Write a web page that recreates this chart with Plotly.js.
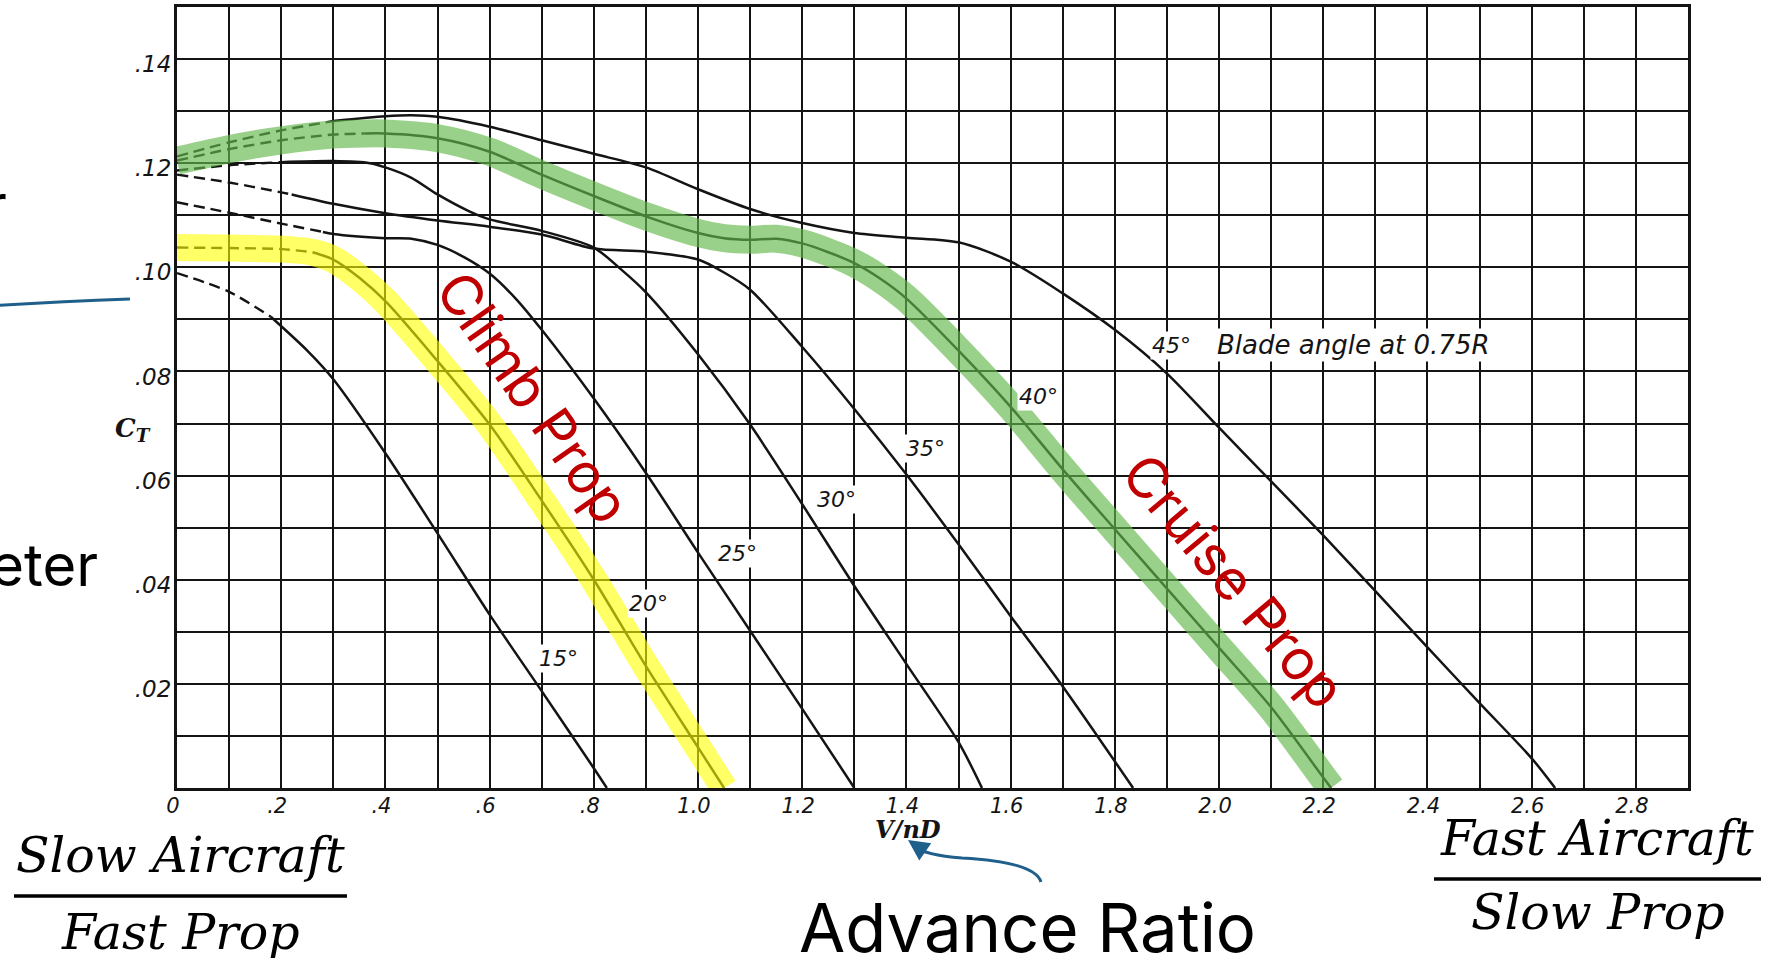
<!DOCTYPE html>
<html>
<head>
<meta charset="utf-8">
<script src="https://cdn.plot.ly/plotly-3.0.1.min.js"></script>
<style>
html,body{margin:0;padding:0;background:#ffffff;overflow:hidden;}
#chart{width:1770px;height:958px;}
</style>
</head>
<body>
<div id="chart"></div>
<script>
// ---------- data (advance ratio V/nD vs thrust coefficient C_T) ----------
const vnd15 = [0, 0.1, 0.18, 0.25, 0.3, 0.4, 0.5, 0.6, 0.7, 0.8, 0.825];
const ct15  = [0.0989, 0.0953, 0.0905, 0.0840, 0.0785, 0.0643, 0.0489, 0.0333, 0.0186, 0.0038, 0];

const vnd20 = [0, 0.1, 0.2, 0.26, 0.3, 0.35, 0.4, 0.5, 0.6, 0.7, 0.8, 0.9, 1.0, 1.05];
const ct20  = [0.1038, 0.1037, 0.1035, 0.1029, 0.1015, 0.0980, 0.0935, 0.0820, 0.0698, 0.0552, 0.0400, 0.0234, 0.0078, 0];

const vnd25 = [0, 0.1, 0.2, 0.28, 0.3, 0.4, 0.45, 0.5, 0.55, 0.6, 0.65, 0.7, 0.8, 0.9, 1.0, 1.1, 1.2, 1.3];
const ct25  = [0.1125, 0.1105, 0.1084, 0.1068, 0.1064, 0.1056, 0.1055, 0.1043, 0.1020, 0.0988, 0.0940, 0.0880, 0.0748, 0.0605, 0.0452, 0.0302, 0.0152, 0];

const vnd30 = [0, 0.1, 0.2, 0.3, 0.37, 0.4, 0.45, 0.5, 0.56, 0.6, 0.7, 0.8, 0.85, 0.9, 1.0, 1.1, 1.2, 1.3, 1.4, 1.5, 1.545];
const ct30  = [0.1186, 0.1196, 0.1202, 0.1204, 0.1200, 0.1192, 0.1172, 0.1140, 0.1108, 0.1092, 0.1070, 0.1038, 0.0998, 0.0952, 0.0833, 0.0698, 0.0545, 0.0388, 0.0238, 0.0088, 0];

const vnd35 = [0, 0.1, 0.2, 0.22, 0.3, 0.4, 0.5, 0.6, 0.7, 0.8, 0.9, 1.0, 1.05, 1.1, 1.2, 1.3, 1.4, 1.5, 1.6, 1.7, 1.835];
const ct35  = [0.1178, 0.1163, 0.1144, 0.1140, 0.1122, 0.1104, 0.1090, 0.1078, 0.1063, 0.1036, 0.1030, 0.1015, 0.0990, 0.0957, 0.0847, 0.0728, 0.0602, 0.0468, 0.0330, 0.0195, 0];

const vnd40 = [0, 0.1, 0.2, 0.3, 0.36, 0.4, 0.5, 0.6, 0.7, 0.8, 0.9, 1.0, 1.05, 1.1, 1.15, 1.2, 1.25, 1.3, 1.35, 1.4, 1.5, 1.6, 1.7, 1.8, 1.9, 2.0, 2.1, 2.2, 2.215];
const ct40  = [0.1205, 0.1227, 0.1244, 0.1255, 0.1257, 0.1257, 0.1248, 0.1222, 0.1178, 0.1137, 0.1098, 0.1066, 0.1056, 0.1053, 0.1055, 0.1046, 0.1029, 0.1008, 0.0978, 0.0940, 0.0840, 0.0732, 0.0612, 0.0497, 0.0383, 0.0269, 0.0155, 0.0020, 0];

const vnd45 = [0, 0.1, 0.2, 0.3, 0.4, 0.45, 0.5, 0.6, 0.7, 0.8, 0.9, 1.0, 1.1, 1.2, 1.3, 1.4, 1.5, 1.6, 1.7, 1.8, 1.9, 2.0, 2.1, 2.2, 2.3, 2.4, 2.5, 2.6, 2.645];
const ct45  = [0.1213, 0.1240, 0.1263, 0.1281, 0.1290, 0.1292, 0.1289, 0.1270, 0.1244, 0.1218, 0.1192, 0.1150, 0.1112, 0.1085, 0.1066, 0.1057, 0.1048, 0.1011, 0.0950, 0.0880, 0.0796, 0.0692, 0.0589, 0.0485, 0.0378, 0.0270, 0.0163, 0.0057, 0];

const bladeAngles = ['15°', '20°', '25°', '30°', '35°', '40°', '45°'];
// V/nD where each curve changes from dashed (extrapolated) to solid
const dashedUntil = [0.18, 0.26, 0.28, 0.2, 0.22, 0.36, 0.3];

const xTickVals = [0, 0.2, 0.4, 0.6, 0.8, 1.0, 1.2, 1.4, 1.6, 1.8, 2.0, 2.2, 2.4, 2.6, 2.8];
const xTickText = ['0', '.2', '.4', '.6', '.8', '1.0', '1.2', '1.4', '1.6', '1.8', '2.0', '2.2', '2.4', '2.6', '2.8'];
const yTickVals = [0.02, 0.04, 0.06, 0.08, 0.10, 0.12, 0.14];
const yTickText = ['.02', '.04', '.06', '.08', '.10', '.12', '.14'];

// ---------- build figure ----------
const curves = [[vnd15, ct15], [vnd20, ct20], [vnd25, ct25], [vnd30, ct30], [vnd35, ct35], [vnd40, ct40], [vnd45, ct45]];
const INK = '#141414';
const traces = [];
curves.forEach(function (c, i) {
  const xs = c[0], ys = c[1], d = dashedUntil[i];
  const dx = [], dy = [], sx = [], sy = [];
  xs.forEach(function (v, k) {
    if (v <= d + 1e-9) { dx.push(v); dy.push(ys[k]); }
    if (v >= d - 1e-9) { sx.push(v); sy.push(ys[k]); }
  });
  traces.push({x: dx, y: dy, type: 'scatter', mode: 'lines', name: bladeAngles[i] + ' (extrapolated)',
    line: {color: INK, width: 2.4, dash: '11px,6px', shape: 'spline', smoothing: 0.8}, hoverinfo: 'skip'});
  traces.push({x: sx, y: sy, type: 'scatter', mode: 'lines', name: bladeAngles[i],
    line: {color: INK, width: 2.5, shape: 'spline', smoothing: 0.8}, hoverinfo: 'skip'});
});
// highlight bands: climb prop (20°) and cruise prop (40°)
traces.push({x: vnd20, y: ct20, type: 'scatter', mode: 'lines', name: 'Climb Prop',
  line: {color: 'rgba(255,255,0,0.6)', width: 27, shape: 'spline', smoothing: 0.8}, hoverinfo: 'skip'});
traces.push({x: vnd40, y: ct40, type: 'scatter', mode: 'lines', name: 'Cruise Prop',
  line: {color: 'rgba(100,185,75,0.65)', width: 28, shape: 'spline', smoothing: 0.8}, hoverinfo: 'skip'});

// grid positions every 0.1 / 0.01 with labels at the reference's labelled values
const xGrid = [], xGridText = [];
for (let i = 0; i <= 29; i++) {
  const v = i / 10;
  xGrid.push(v);
  const k = xTickVals.findIndex(function (t) { return Math.abs(t - v) < 1e-9; });
  xGridText.push(k >= 0 ? xTickText[k] : '');
}
const yGrid = [], yGridText = [];
for (let i = 0; i <= 15; i++) {
  const v = i / 100;
  yGrid.push(v);
  const k = yTickVals.findIndex(function (t) { return Math.abs(t - v) < 1e-9; });
  yGridText.push(k >= 0 ? yTickText[k] : '');
}

// pixel -> paper helpers for the slide decorations around the chart
const ML = 177, MR = 82, MT = 7, MB = 170, W = 1770, H = 958;
const PW = W - ML - MR, PH = H - MT - MB;
function P(px) { return (px - ML) / PW; }
function Q(py) { return (H - MB - py) / PH; }
function pp(x, y) { return P(x).toFixed(5) + ',' + Q(y).toFixed(5); }
function note(px, py, text, font, extra) {
  const a = {x: P(px), y: Q(py), xref: 'paper', yref: 'paper', xanchor: 'center', yanchor: 'middle',
    text: text, showarrow: false, font: font};
  return Object.assign(a, extra || {});
}

const xTickFont = {family: 'DejaVu Sans', size: 21, style: 'italic', color: INK};
const yTickFont = {family: 'DejaVu Sans', size: 23, style: 'italic', color: INK};
const lblFont = {family: 'DejaVu Sans', size: 22, style: 'italic', color: INK};
const fracFont = {family: 'DejaVu Serif', size: 49, style: 'italic', color: '#000'};
const red = '#c00000';
const blue = '#1f5f8b';

const annotations = [];
const labelPos = [[0.733, 0.0249], [0.904, 0.0355], [1.076, 0.0451], [1.266, 0.0555], [1.437, 0.0653], [1.654, 0.0751], [1.909, 0.0850]];
bladeAngles.forEach(function (b, i) {
  annotations.push({x: labelPos[i][0], y: labelPos[i][1], xref: 'x', yref: 'y', xanchor: 'center', yanchor: 'middle',
    text: b, showarrow: false, font: lblFont, bgcolor: '#ffffff', borderpad: 1});
});
annotations.push({x: 2.258, y: 0.0850, xref: 'x', yref: 'y', xanchor: 'center', yanchor: 'middle',
  text: 'Blade angle at 0.75R', showarrow: false,
  font: {family: 'DejaVu Sans', size: 26, style: 'italic', color: INK}, bgcolor: '#ffffff', borderpad: 1});

annotations.push(
  note(133, 429, 'C<sub>T</sub>', {family: 'DejaVu Serif', size: 26, style: 'italic', weight: 'bold', color: INK}),
  note(908, 829, 'V/nD', {family: 'DejaVu Serif', size: 24, style: 'italic', weight: 'bold', color: INK}),
  note(533, 397, 'Climb Prop', {family: 'Inter', size: 56, color: red}, {textangle: 55}),
  note(1234, 581, 'Cruise Prop', {family: 'Inter', size: 56, color: red}, {textangle: 50}),
  note(1027, 927, 'Advance Ratio', {family: 'Inter', size: 67, color: '#000'}),
  note(100, 565, 'Diameter', {family: 'Inter', size: 58, color: '#000'}, {xanchor: 'right'}),
  note(9, 205, 'Thrust per', {family: 'Inter', size: 58, color: '#000'}, {xanchor: 'right'}),
  note(180, 855, 'Slow Aircraft', fracFont),
  note(180, 932, 'Fast Prop', fracFont),
  note(1597, 838, 'Fast Aircraft', fracFont),
  note(1598, 912, 'Slow Prop', fracFont),
  note(908, 840, '', {size: 10}, {showarrow: true, ax: 13, ay: 9, arrowhead: 2, arrowsize: 1.4,
    arrowwidth: 3, arrowcolor: blue, standoff: 0})
);

const shapes = [
  {type: 'path', xref: 'paper', yref: 'paper', layer: 'above',
   path: 'M ' + pp(1041, 882) + ' C ' + pp(1036, 866) + ' ' + pp(1000, 860) + ' ' + pp(962, 858) +
         ' C ' + pp(936, 856) + ' ' + pp(921, 852) + ' ' + pp(913, 846),
   line: {color: blue, width: 3}},
  {type: 'path', xref: 'paper', yref: 'paper', layer: 'above',
   path: 'M ' + pp(-5, 305.5) + ' Q ' + pp(60, 301.5) + ' ' + pp(130, 299),
   line: {color: blue, width: 3}},
  {type: 'line', xref: 'paper', yref: 'paper', x0: P(14), x1: P(347), y0: Q(896), y1: Q(896),
   line: {color: '#000', width: 3.5}},
  {type: 'line', xref: 'paper', yref: 'paper', x0: P(1434), x1: P(1761), y0: Q(879), y1: Q(879),
   line: {color: '#000', width: 3.5}}
];

const layout = {
  width: W, height: H,
  margin: {l: ML, r: MR, t: MT, b: MB, pad: 0},
  paper_bgcolor: '#ffffff', plot_bgcolor: '#ffffff',
  showlegend: false,
  xaxis: {range: [0, 2.9], tickmode: 'array', tickvals: xGrid, ticktext: xGridText,
    showgrid: true, gridcolor: INK, gridwidth: 2, zeroline: false,
    showline: true, linecolor: INK, linewidth: 3, mirror: true,
    ticks: '', tickfont: xTickFont, ticklabelstandoff: -3, ticklabelshift: -4, automargin: false, fixedrange: true},
  yaxis: {range: [0, 0.15], tickmode: 'array', tickvals: yGrid, ticktext: yGridText,
    showgrid: true, gridcolor: INK, gridwidth: 2, zeroline: false,
    showline: true, linecolor: INK, linewidth: 3, mirror: true,
    ticks: '', tickfont: yTickFont, ticklabelstandoff: -2, ticklabelshift: 5, automargin: false, fixedrange: true},
  annotations: annotations,
  shapes: shapes
};

Plotly.newPlot('chart', traces, layout, {staticPlot: true, displayModeBar: false});
</script>
</body>
</html>
